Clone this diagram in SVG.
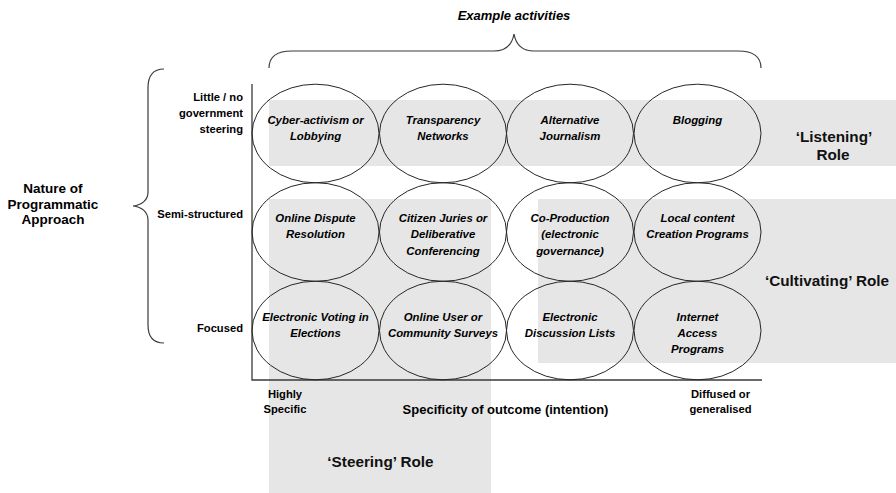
<svg xmlns="http://www.w3.org/2000/svg" width="896" height="493" viewBox="0 0 896 493">
<style>
.band{fill:#e6e6e6;stroke:none}
.ell{fill:none;stroke:#262626;stroke-width:1}
.ax{stroke:#3a3a3a;stroke-width:1.3;fill:none}
.brace{stroke:#3a3a3a;stroke-width:1.2;fill:none}
text{font-family:"Liberation Sans",Arial,sans-serif;fill:#000}
.act{font-size:11.4px;font-weight:bold;font-style:italic;text-anchor:middle}
.lab{font-size:11.2px;font-weight:bold}
.role{font-size:15.3px;font-weight:bold;text-anchor:middle;fill:#111}
.big{font-size:13.5px;font-weight:bold;text-anchor:middle}
.axt{font-size:13px;font-weight:bold;text-anchor:middle}
</style>
<rect width="896" height="493" fill="#ffffff"/>
<g id="bands">
<rect id="listening-band" class="band" x="269" y="100" width="627" height="66"/>
<rect id="cultivating-band" class="band" x="538" y="199" width="358" height="164"/>
<rect id="steering-band" class="band" x="269" y="199" width="222" height="294"/>
</g>
<g id="connectors">
<path class="ax" d="M252,84 L252,380 L762,380"/>
<path class="brace" d="M164,69 C155,69 148,74 148,88 L148,192 C148,200 142,205 133,206 C142,207 148,212 148,220 L148,325 C148,338 155,343 164,343"/>
<path class="brace" d="M269,68 C269,58 275,51 292,51 L494,51 C505,51 512,45 514,34 C516,45 523,51 534,51 L738,51 C755,51 761,58 761,68"/>
</g>
<g id="labels">
<text class="act" x="514" y="20" style="font-size:13px">Example activities</text>
<text class="big" x="53" y="193">Nature of</text>
<text class="big" x="53" y="208.5">Programmatic</text>
<text class="big" x="53" y="224">Approach</text>
<text class="lab" x="243" y="101" text-anchor="end">Little / no</text>
<text class="lab" x="243" y="117" text-anchor="end">government</text>
<text class="lab" x="243" y="133" text-anchor="end">steering</text>
<text class="lab" x="243" y="217.5" text-anchor="end">Semi-structured</text>
<text class="lab" x="243" y="331.5" text-anchor="end">Focused</text>
<text class="lab" x="285" y="398" text-anchor="middle">Highly</text>
<text class="lab" x="285" y="413" text-anchor="middle">Specific</text>
<text class="axt" x="505.5" y="414">Specificity of outcome (intention)</text>
<text class="lab" x="720.5" y="398" text-anchor="middle">Diffused or</text>
<text class="lab" x="720.5" y="413" text-anchor="middle">generalised</text>
<text class="role" x="834" y="141.5">‘Listening’</text>
<text class="role" x="833" y="159.5">Role</text>
<text class="role" x="827" y="286">‘Cultivating’ Role</text>
<text class="role" x="380.5" y="466.5">‘Steering’ Role</text>
</g>
<g id="n-cyber"><ellipse class="ell" cx="315.5" cy="133.5" rx="63.5" ry="49.3"/><text class="act" x="315.5" y="123.5">Cyber-activism or</text><text class="act" x="315.5" y="139.5">Lobbying</text></g>
<g id="n-transparency"><ellipse class="ell" cx="443" cy="133.5" rx="63.5" ry="49.3"/><text class="act" x="443" y="123.5">Transparency</text><text class="act" x="443" y="139.5">Networks</text></g>
<g id="n-journalism"><ellipse class="ell" cx="570" cy="133.5" rx="63.5" ry="49.3"/><text class="act" x="570" y="123.5">Alternative</text><text class="act" x="570" y="139.5">Journalism</text></g>
<g id="n-blogging"><ellipse class="ell" cx="697.5" cy="133.5" rx="63.5" ry="49.3"/><text class="act" x="697.5" y="123.5">Blogging</text></g>
<g id="n-dispute"><ellipse class="ell" cx="315.5" cy="232" rx="63.5" ry="49.3"/><text class="act" x="315.5" y="222">Online Dispute</text><text class="act" x="315.5" y="238">Resolution</text></g>
<g id="n-juries"><ellipse class="ell" cx="443" cy="232" rx="63.5" ry="49.3"/><text class="act" x="443" y="222">Citizen Juries or</text><text class="act" x="443" y="238">Deliberative</text><text class="act" x="443" y="254.5">Conferencing</text></g>
<g id="n-coproduction"><ellipse class="ell" cx="570" cy="232" rx="63.5" ry="49.3"/><text class="act" x="570" y="222">Co-Production</text><text class="act" x="570" y="238">(electronic</text><text class="act" x="570" y="254.5">governance)</text></g>
<g id="n-local"><ellipse class="ell" cx="697.5" cy="232" rx="63.5" ry="49.3"/><text class="act" x="697.5" y="222">Local content</text><text class="act" x="697.5" y="238">Creation Programs</text></g>
<g id="n-voting"><ellipse class="ell" cx="315.5" cy="330.5" rx="63.5" ry="49.3"/><text class="act" x="315.5" y="321">Electronic Voting in</text><text class="act" x="315.5" y="337">Elections</text></g>
<g id="n-surveys"><ellipse class="ell" cx="443" cy="330.5" rx="63.5" ry="49.3"/><text class="act" x="443" y="321">Online User or</text><text class="act" x="443" y="337">Community Surveys</text></g>
<g id="n-discussion"><ellipse class="ell" cx="570" cy="330.5" rx="63.5" ry="49.3"/><text class="act" x="570" y="321">Electronic</text><text class="act" x="570" y="337">Discussion Lists</text></g>
<g id="n-access"><ellipse class="ell" cx="697.5" cy="330.5" rx="63.5" ry="49.3"/><text class="act" x="697.5" y="321">Internet</text><text class="act" x="697.5" y="337">Access</text><text class="act" x="697.5" y="353">Programs</text></g>
</svg>
